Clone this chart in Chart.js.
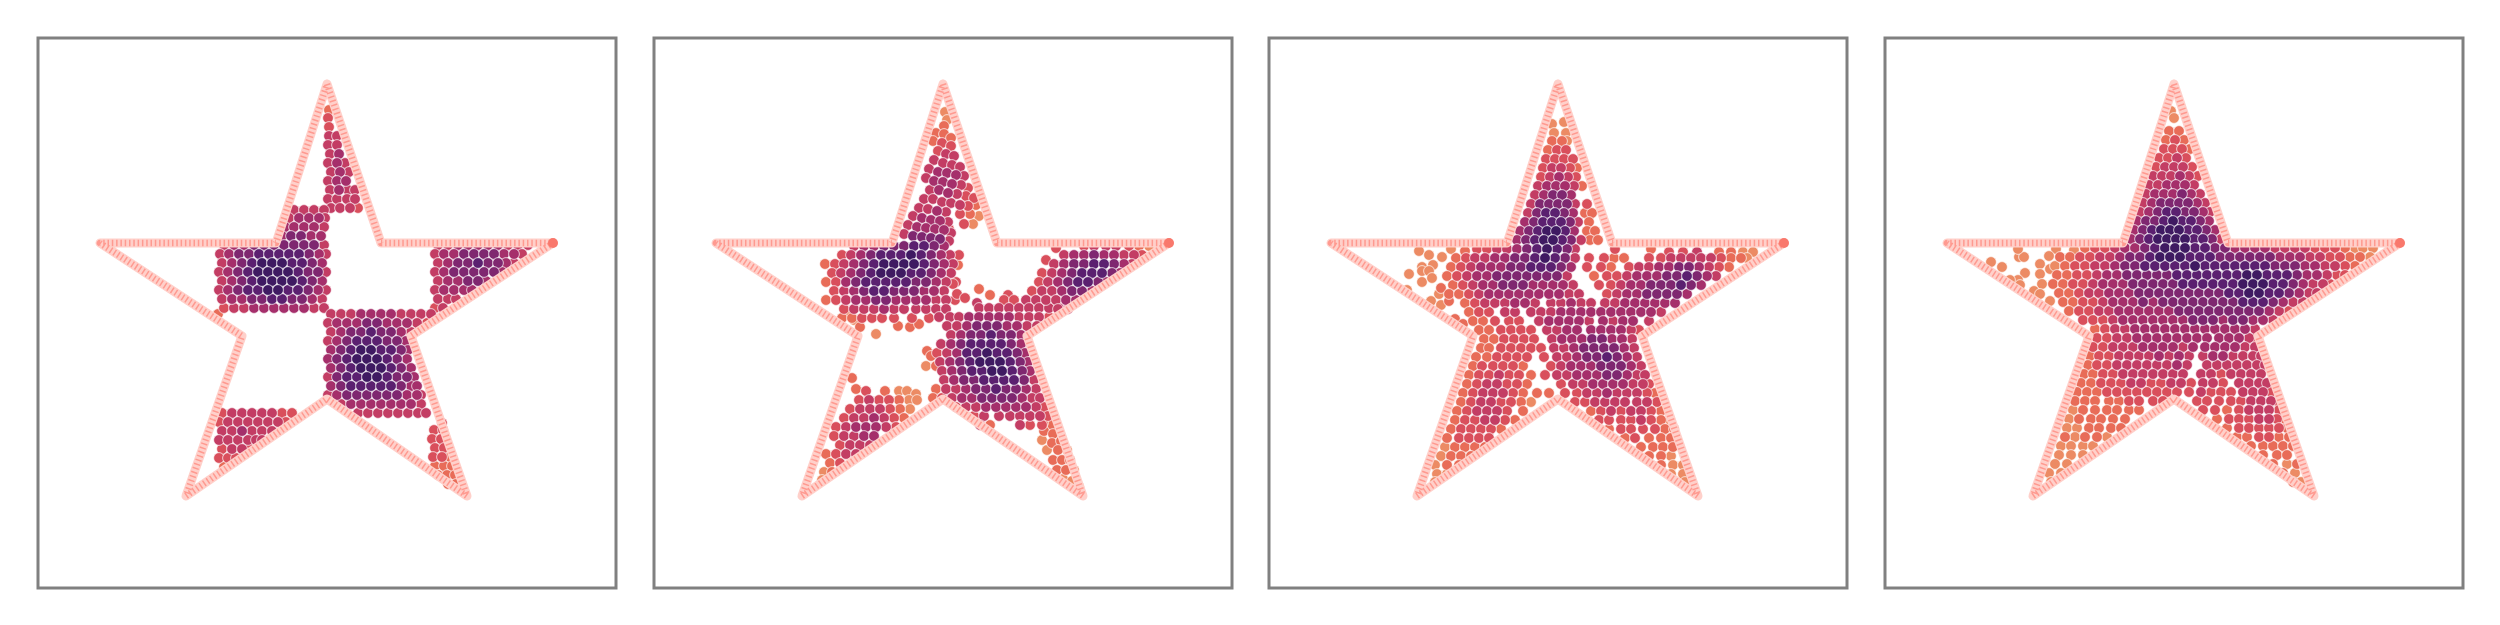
<!DOCTYPE html>
<html>
<head>
<meta charset="utf-8">
<script src="https://cdn.jsdelivr.net/npm/chart.js@4"></script>
<style>
  body { margin: 0; background: #fff; width: 2500px; height: 625px; position: relative; overflow: hidden; }
  canvas { position: absolute; top: 28px; }
</style>
</head>
<body>
<canvas id="c0" width="598" height="570"></canvas>
<canvas id="c1" width="598" height="570"></canvas>
<canvas id="c2" width="598" height="570"></canvas>
<canvas id="c3" width="598" height="570"></canvas>
<script>
// star outline corners
const starX = [289, 343, 515, 373, 429, 289, 148, 204, 62, 238, 289];
const starY = [46, 205, 205, 298, 458, 361, 458, 298, 205, 205, 46];
const tipX = [515];
const tipY = [205];

const panel1Rows = [
  [72, 291,1], [80, 290,2], [89, 291,2], [98, 291,3, 299,3], [107, 290,3, 299,3], [116, 292,3, 301,4],
  [125, 290,3, 299,4, 307,3], [134, 293,3, 302,4, 311,3], [143, 290,3, 299,4, 308,4], [152, 292,3, 301,4, 310,3, 317,3],
  [161, 290,3, 299,3, 309,3, 317,3], [170, 293,3, 302,3, 312,3, 320,2],
  [172, 256,3, 266,3, 276,3, 286,3], [180, 251,3, 261,4, 271,4, 281,4, 287,3], [189, 247,4, 256,4, 266,4, 276,4, 286,3],
  [198, 244,4, 253,5, 263,5, 273,4, 283,4],
  [207, 186,3, 196,4, 206,4, 216,5, 226,5, 236,5, 246,5, 256,5, 266,5, 276,5, 286,3],
  [216, 182,3, 191,4, 201,5, 211,5, 221,6, 231,6, 241,6, 251,6, 261,6, 271,5, 281,4, 288,3],
  [225, 184,3, 194,4, 204,5, 214,6, 224,7, 234,7, 244,7, 254,6, 264,6, 274,5, 284,4],
  [234, 181,3, 190,4, 200,5, 210,6, 220,7, 230,7, 240,7, 250,7, 260,6, 270,5, 280,5, 288,3],
  [243, 184,3, 194,4, 204,5, 214,6, 224,7, 234,7, 244,7, 254,7, 264,6, 274,5, 284,4],
  [252, 181,3, 190,4, 200,5, 210,6, 220,6, 230,7, 240,7, 250,6, 260,6, 270,5, 280,4, 288,3],
  [261, 184,3, 194,4, 204,4, 214,5, 224,5, 234,6, 244,6, 254,5, 264,5, 274,4, 284,3],
  [270, 186,2, 196,3, 206,3, 216,4, 226,4, 236,4, 246,4, 256,4, 266,4, 276,3, 286,3], [276, 180,1],
  [207, 400,3, 410,3, 420,4, 430,4, 440,4, 450,4, 460,4, 470,3, 480,3, 490,3],
  [216, 397,3, 406,4, 416,4, 426,5, 436,5, 446,5, 456,5, 466,4, 476,4, 484,3],
  [225, 400,3, 410,4, 420,5, 430,5, 440,6, 450,5, 460,5, 468,4, 476,3],
  [234, 397,3, 406,4, 416,5, 426,5, 436,5, 446,5, 456,5, 464,4],
  [243, 400,3, 410,4, 420,4, 430,5, 440,5, 448,4], [252, 397,3, 406,4, 416,4, 426,4, 434,4],
  [261, 400,3, 410,3, 418,3], [270, 397,2, 405,3],
  [276, 293,3, 303,3, 313,3, 323,4, 333,4, 343,4, 353,4, 363,3, 373,3, 383,3, 393,3],
  [285, 290,3, 299,4, 309,4, 319,4, 329,5, 339,5, 349,4, 359,4, 369,4, 379,3, 389,2],
  [294, 293,3, 303,4, 313,5, 323,5, 333,6, 343,5, 353,5, 363,4, 373,3],
  [303, 290,3, 299,4, 309,5, 319,6, 329,6, 339,6, 349,5, 359,5, 368,4],
  [312, 293,4, 303,5, 313,6, 323,7, 333,7, 343,6, 353,6, 363,5, 370,4],
  [321, 290,4, 299,5, 309,6, 319,7, 329,7, 339,7, 349,6, 359,5, 369,4],
  [330, 293,4, 303,5, 313,6, 323,7, 333,7, 343,7, 353,6, 363,5, 373,4],
  [339, 290,3, 299,5, 309,6, 319,6, 329,7, 339,7, 349,6, 359,5, 369,5, 376,4],
  [348, 293,4, 303,5, 313,6, 323,6, 333,6, 343,6, 353,6, 363,5, 373,4, 379,4],
  [357, 290,3, 299,4, 309,5, 319,5, 329,5, 339,5, 349,5, 359,5, 369,4, 379,4, 383,3],
  [366, 303,3, 313,4, 323,4, 333,4, 343,4, 353,4, 363,4, 373,4, 383,3],
  [375, 320,3, 330,3, 340,3, 350,3, 360,3, 370,3, 380,3, 388,3],
  [375, 184,2, 194,3, 204,3, 214,3, 224,3, 234,3, 244,2, 254,2],
  [384, 181,2, 190,3, 200,3, 210,3, 220,3, 230,3, 240,3, 248,2],
  [393, 184,3, 194,3, 204,4, 214,3, 224,3, 234,3], [402, 181,3, 190,3, 200,3, 210,3, 218,3, 224,3],
  [411, 184,2, 194,3, 204,3, 212,2], [420, 181,2, 190,2, 198,2], [429, 186,1],
  [385, 404,2], [392, 396,2, 405,2], [401, 394,2, 403,2], [410, 397,2, 406,2], [419, 395,2, 404,2, 412,1],
  [428, 397,1, 406,1, 414,1], [437, 400,1, 409,1, 417,1], [446, 410,1, 418,1],
];

const panel2Rows = [
  [74, 291,0], [82, 293,0], [88, 290,1], [95, 282,1], [96, 290,1], [100, 297,1], [103, 279,1], [105, 288,2], [108, 297,2],
  [113, 284,2], [116, 292,3], [118, 300,3], [122, 280,3], [125, 289,3], [127, 298,3], [129, 306,3],
  [131, 275,3], [134, 284,4], [135, 293,4], [137, 302,4], [138, 310,3], [140, 272,3], [143, 280,4], [144, 289,4],
  [146, 298,4], [147, 307,3], [150, 314,2], [152, 276,3, 285,4], [155, 294,4], [156, 303,3], [158, 312,2], [160, 320,2],
  [161, 270,3, 279,3], [164, 288,3], [165, 297,3], [167, 306,3, 322,1], [168, 314,2], [170, 265,3], [171, 274,3],
  [173, 283,4], [174, 292,3], [176, 306,2, 316,1], [178, 325,0], [186, 319,0, 310,2],
  [178, 259,3], [180, 268,4], [182, 277,4], [183, 286,4], [184, 294,3], [187, 254,3], [189, 263,4], [190, 272,4],
  [191, 281,4, 295,2], [192, 290,4], [195, 297,3], [196, 250,3], [198, 259,5], [199, 268,5], [200, 277,5], [201, 286,5], [203, 295,3],
  [208, 200,3, 210,4, 220,4, 230,5, 240,5, 250,5, 260,6, 270,6, 280,5, 290,4],
  [217, 188,2, 197,3, 207,4, 217,5, 227,6, 237,6, 247,6, 257,7, 267,6, 277,5, 287,4, 296,3, 305,2],
  [226, 171,1, 181,2, 190,3, 200,4, 210,5, 220,6, 230,7, 240,7, 250,7, 260,7, 270,6, 280,5, 290,4, 299,3],
  [235, 178,2, 187,3, 197,4, 207,5, 217,6, 227,7, 237,7, 247,7, 257,6, 267,6, 277,5, 287,4, 297,3],
  [244, 172,1, 182,2, 192,4, 202,5, 212,6, 222,6, 232,6, 242,6, 252,6, 262,5, 272,5, 282,4, 292,3, 302,2],
  [253, 180,2, 190,3, 200,4, 210,5, 220,6, 230,6, 240,5, 250,5, 260,5, 270,4, 280,4, 290,3],
  [262, 172,1, 182,2, 192,3, 202,4, 212,4, 222,5, 232,5, 242,4, 252,4, 262,4, 272,4, 282,3, 292,3, 301,2],
  [271, 190,2, 200,3, 210,3, 220,3, 230,4, 240,3, 250,3, 262,3, 272,3, 282,3, 292,3],
  [280, 188,1, 198,1, 208,2, 218,2, 228,2, 240,2, 258,2, 275,2],
  [275, 192,0], [282, 200,0], [289, 206,1, 256,1], [296, 222,0], [288, 244,1], [286, 265,1], [251, 325,1], [257, 336,1],
  [227, 304,1], [246, 299,2], [256, 303,2], [260, 311,2], [265, 323,3], [257, 354,2], [262, 350,2, 360,2, 372,3, 382,3],
  [270, 325,3, 335,3, 345,3, 355,3, 365,3, 375,3, 385,3, 395,3, 405,3],
  [279, 285,3, 296,3, 305,3, 315,4, 325,4, 335,4, 345,4, 355,4, 365,3, 375,3, 385,3, 395,2],
  [288, 293,3, 303,3, 313,4, 323,5, 333,5, 343,5, 353,4, 363,4, 373,3, 383,3],
  [297, 297,3, 307,4, 317,5, 327,5, 337,6, 347,5, 357,5, 367,4],
  [306, 287,3, 297,4, 307,5, 317,6, 327,6, 337,6, 347,6, 357,5, 367,4],
  [315, 283,2, 293,3, 303,4, 313,6, 323,6, 333,7, 343,6, 353,6, 363,5, 371,4],
  [324, 286,3, 296,4, 306,5, 316,6, 326,7, 336,7, 346,7, 356,6, 366,5, 374,4],
  [313, 273,1], [318, 277,1], [328, 272,0, 282,1],
  [333, 288,3, 298,4, 308,5, 318,6, 328,6, 338,7, 348,7, 358,6, 368,5, 376,4],
  [342, 290,3, 300,4, 310,5, 320,5, 330,6, 340,6, 350,6, 360,6, 370,5, 380,3],
  [351, 282,1, 292,3, 302,3, 312,4, 322,5, 332,5, 342,6, 352,5, 362,5, 372,4, 382,3],
  [360, 279,1, 288,2, 298,3, 308,4, 318,4, 328,5, 338,5, 348,5, 358,5, 368,4, 378,3, 386,3],
  [369, 302,2, 312,3, 322,3, 332,4, 342,4, 352,4, 362,4, 372,4, 382,3, 390,2],
  [378, 320,2, 330,3, 345,3, 356,3, 366,3, 376,3, 386,3, 394,2], [387, 326,3, 336,1, 366,3, 376,2, 388,2, 398,1],
  [385, 389,1], [393, 390,1], [396, 399,1], [402, 388,0], [405, 398,1], [403, 407,1], [412, 393,0, 404,1, 413,0],
  [422, 399,1, 408,1, 416,1], [432, 403,1, 412,1, 420,0], [441, 409,0], [443, 418,0], [449, 425,0],
  [210, 402,2], [208, 430,2, 440,3, 452,3, 462,3, 475,2, 485,1, 495,0],
  [217, 410,3, 420,4, 430,4, 440,5, 450,4, 460,4, 470,3, 480,3, 488,2], [222, 392,2],
  [226, 400,3, 410,4, 420,5, 430,5, 440,6, 450,6, 460,5, 470,4, 478,3],
  [235, 388,2, 398,3, 408,4, 418,5, 428,6, 438,6, 448,6, 458,5, 466,4],
  [244, 385,2, 394,3, 404,4, 414,5, 424,6, 434,6, 444,5, 452,4],
  [253, 378,2, 388,3, 398,3, 408,4, 418,5, 428,5, 438,4], [262, 392,3, 402,3, 412,4, 422,4], [271, 404,3, 414,3],
  [340, 198,1], [351, 202,1], [353, 212,2, 231,1, 245,0, 253,0], [356, 262,0],
  [362, 205,2, 215,3, 225,2, 235,2, 245,1, 255,0, 263,0],
  [371, 196,2, 206,3, 216,3, 226,3, 236,2, 246,1, 256,0],
  [380, 190,2, 200,3, 210,3, 220,4, 230,3, 240,2, 250,1],
  [389, 182,2, 192,3, 202,4, 212,4, 222,4, 232,3, 242,2],
  [398, 180,2, 190,3, 200,3, 210,4, 220,4],
  [407, 186,2, 196,3, 206,3, 216,3], [416, 172,1, 182,2, 192,3, 202,3], [425, 176,1, 186,2],
  [434, 170,0, 178,1], [442, 168,0],
];

const panel3Rows = [
  [84, 295,0], [86, 283,0], [95, 285,0, 297,0], [103, 283,1, 293,1, 298,0], [112, 279,1, 288,2, 297,2],
  [121, 277,2, 286,2, 295,2, 304,2], [130, 274,2, 283,3, 292,3, 301,2, 308,1], [139, 272,2, 281,3, 290,4, 299,3, 307,2],
  [148, 269,3, 278,4, 287,4, 296,4, 305,3, 313,1], [157, 266,3, 275,4, 284,5, 293,5, 302,4],
  [166, 262,3, 271,5, 280,5, 289,5, 298,5, 306,3, 318,2], [175, 259,3, 268,5, 277,6, 286,6, 295,5, 304,4, 316,1, 323,1],
  [184, 256,4, 265,5, 274,6, 283,6, 292,6, 301,5, 309,3, 320,1], [193, 251,4, 260,5, 269,6, 278,7, 287,7, 296,6, 305,4, 318,1, 326,1],
  [202, 248,4, 257,5, 266,6, 275,7, 284,7, 293,6, 302,5, 312,3, 321,1, 329,1],
  [213, 150,0, 196,1], [217, 160,0], [219, 173,0], [227, 164,0], [229, 153,0], [236, 140,0], [233, 153,0, 160,0],
  [244, 153,0], [240, 163,0], [211, 182,0], [250, 172,1], [256, 170,0], [263, 162,0, 180,1], [252, 138,0], [267, 172,0],
  [281, 186,1], [286, 194,1],
  [211, 208,2, 218,2, 228,3, 238,3, 248,4, 258,5, 268,6, 278,7, 288,6, 298,5, 306,3, 346,2, 382,1],
  [214, 400,2, 414,2, 428,3, 450,1, 462,1, 474,0, 484,0],
  [220, 187,1, 197,2, 206,3, 216,3, 226,4, 236,4, 246,5, 256,5, 266,6, 276,7, 286,6, 296,5, 306,3, 320,2, 335,2, 345,1, 355,1, 380,2, 392,2, 402,3, 412,3, 422,3, 432,3, 442,3, 452,2, 462,1, 472,1, 478,0],
  [229, 182,1, 192,2, 202,3, 212,4, 222,4, 232,4, 242,5, 252,5, 262,6, 272,6, 282,6, 292,5, 302,4, 318,2, 332,2, 342,1, 360,2, 370,3, 380,3, 390,4, 400,4, 410,5, 420,5, 430,4, 440,3, 450,2, 460,1],
  [238, 178,1, 188,2, 198,3, 208,4, 218,4, 228,5, 238,5, 248,5, 258,5, 268,5, 278,5, 288,5, 298,3, 325,1, 338,2, 348,2, 358,3, 368,4, 378,4, 388,4, 398,5, 408,5, 418,6, 428,5, 438,4, 447,3],
  [247, 184,1, 194,2, 204,3, 214,4, 224,4, 234,5, 244,5, 254,5, 264,4, 274,4, 284,4, 294,4, 304,3, 330,2, 342,2, 352,3, 362,4, 372,4, 382,5, 392,5, 402,5, 412,6, 422,5, 432,4],
  [256, 180,1, 190,1, 200,2, 210,3, 220,4, 230,4, 240,4, 250,4, 260,4, 270,4, 280,4, 290,4, 300,3, 310,3, 338,2, 348,3, 358,4, 368,4, 378,5, 388,5, 398,5, 408,5, 418,4],
  [265, 196,1, 206,2, 216,3, 226,3, 236,3, 246,4, 256,4, 266,3, 282,3, 292,3, 302,4, 312,3, 322,3, 336,3, 346,3, 356,4, 366,4, 376,4, 386,4, 396,4, 406,4],
  [274, 200,1, 210,2, 220,2, 236,3, 246,3, 262,3, 272,3, 282,3, 292,4, 302,4, 312,4, 322,4, 332,4, 342,4, 352,4, 362,4, 372,4, 382,4, 392,3],
  [283, 204,1, 214,1, 226,2, 240,2, 250,2, 270,3, 280,4, 290,4, 300,4, 310,4, 320,3, 334,4, 344,3, 354,4, 364,4, 380,3],
  [292, 210,1, 220,1, 232,2, 242,2, 252,2, 262,2, 278,3, 288,3, 298,4, 308,4, 322,4, 332,4, 342,4, 352,4, 362,3, 370,2],
  [301, 215,1, 225,1, 235,2, 245,2, 255,2, 265,2, 283,3, 293,4, 303,4, 313,4, 323,5, 333,5, 343,4, 353,4, 363,3],
  [310, 212,1, 220,1, 232,2, 242,2, 252,2, 262,2, 272,2, 285,3, 295,3, 305,4, 315,5, 325,5, 335,5, 345,5, 355,4, 365,3],
  [319, 207,1, 218,1, 228,2, 238,2, 248,2, 258,2, 275,2, 288,3, 298,3, 308,4, 318,5, 328,5, 338,6, 348,5, 358,4, 368,3],
  [328, 204,1, 213,2, 224,2, 234,2, 244,2, 254,1, 282,2, 292,3, 302,4, 312,4, 322,4, 332,5, 342,5, 352,5, 362,4, 372,3],
  [337, 200,1, 210,2, 220,2, 230,3, 240,2, 250,2, 262,1, 276,2, 288,3, 298,3, 308,4, 318,4, 328,4, 338,5, 348,5, 358,4, 368,3, 376,3],
  [346, 198,1, 208,2, 218,3, 228,3, 238,2, 248,2, 258,1, 292,2, 304,3, 314,3, 324,4, 334,4, 344,4, 354,4, 364,3, 374,3, 380,2],
  [355, 194,1, 204,2, 214,3, 224,3, 234,3, 244,2, 254,1, 268,1, 280,1, 296,2, 308,2, 318,3, 328,3, 338,4, 348,3, 358,3, 368,3, 378,2, 386,1],
  [364, 192,1, 202,2, 212,3, 222,3, 232,2, 242,2, 252,1, 262,0, 306,2, 316,2, 326,3, 336,3, 346,3, 356,3, 368,3, 378,3, 388,2],
  [373, 188,1, 198,2, 208,3, 218,3, 228,3, 238,2, 254,1, 322,1, 332,2, 342,3, 352,2, 362,3, 372,3, 382,2, 392,1],
  [382, 186,1, 196,2, 206,2, 216,3, 226,3, 236,2, 246,1, 330,2, 340,2, 352,2, 362,2, 372,3, 382,2, 392,1, 401,0],
  [391, 182,1, 192,2, 202,2, 212,2, 222,2, 232,1, 340,1, 352,2, 362,2, 374,2, 386,2, 396,1, 405,1],
  [400, 178,1, 190,2, 200,2, 210,2, 220,2, 356,1, 366,2, 380,1, 392,1, 402,1],
  [409, 176,0, 186,1, 196,1, 206,1, 216,1, 372,1, 384,1, 394,1, 404,1], [418, 172,0, 182,1, 192,1, 202,1, 380,1, 392,1, 402,0],
  [427, 166,0, 178,1, 190,1, 392,1, 404,0, 414,0], [436, 168,0, 178,0, 402,0, 414,0], [444, 166,0, 416,0],
];

const panel4Rows = [
  [73, 286,0], [80, 289,0], [93, 284,1, 294,1], [102, 281,1, 290,2, 299,1], [111, 279,2, 288,2, 297,2, 305,1],
  [120, 274,2, 283,2, 292,3, 301,2], [129, 271,2, 280,3, 289,3, 298,3, 307,2], [138, 268,3, 277,3, 286,3, 295,4, 304,3, 313,2],
  [147, 264,3, 273,3, 282,4, 291,4, 300,4, 309,3], [156, 261,3, 270,4, 279,4, 288,4, 297,5, 306,4, 315,3],
  [165, 258,3, 267,4, 276,5, 285,5, 294,5, 303,5, 312,4, 320,3], [174, 255,3, 264,4, 273,5, 282,6, 291,6, 300,5, 309,5, 318,4, 325,3],
  [183, 252,4, 261,5, 270,5, 279,6, 288,7, 297,6, 306,6, 315,5, 324,4], [192, 249,4, 258,5, 267,6, 276,7, 285,7, 294,7, 303,6, 312,6, 321,5, 330,4],
  [201, 246,4, 255,5, 264,6, 273,7, 282,7, 291,7, 300,7, 309,6, 318,6, 327,5, 336,3],
  [224, 106,0], [229, 117,0], [219, 134,0, 139,0], [211, 133,0, 171,0], [226, 155,0], [218, 164,0], [212, 189,0],
  [235, 140,0], [242, 133,0, 125,0], [247, 135,0], [236, 155,0], [231, 165,0], [246, 157,0], [253, 149,0], [256, 155,0], [263, 165,0],
  [210, 200,1, 210,2, 220,2, 230,3, 240,4, 250,4, 260,5, 270,6, 280,7, 290,7, 300,7, 310,6, 320,6, 330,5, 340,5, 350,4, 360,4, 370,4, 380,4, 390,3, 400,3, 410,3, 420,3, 430,2, 440,2, 450,2, 460,1, 470,0, 478,0, 488,0],
  [219, 175,1, 185,1, 195,2, 205,2, 215,3, 225,3, 235,4, 245,5, 255,5, 265,6, 275,7, 285,7, 295,7, 305,6, 315,6, 325,6, 335,5, 345,5, 355,5, 365,5, 375,5, 385,5, 395,4, 405,4, 415,4, 425,3, 435,3, 445,2, 455,2, 465,1, 475,1, 485,0],
  [228, 170,0, 180,1, 190,2, 200,2, 210,3, 220,3, 230,4, 240,5, 250,5, 260,6, 270,6, 280,6, 290,6, 300,6, 310,7, 320,6, 330,6, 340,6, 350,6, 360,6, 370,6, 380,6, 390,5, 400,5, 410,5, 420,4, 430,4, 440,3, 450,3, 460,2, 470,1],
  [237, 172,1, 182,1, 192,2, 202,2, 212,3, 222,4, 232,4, 242,5, 252,5, 262,5, 272,5, 282,5, 292,6, 302,6, 312,6, 322,6, 332,6, 342,6, 352,6, 362,7, 372,7, 382,6, 392,6, 402,6, 412,5, 422,4, 432,4, 442,3, 452,2, 460,2],
  [246, 168,1, 178,1, 188,2, 198,2, 208,3, 218,4, 228,4, 238,4, 248,5, 258,5, 268,5, 278,5, 288,5, 298,6, 308,6, 318,6, 328,6, 338,6, 348,6, 358,7, 368,7, 378,7, 388,6, 398,6, 408,5, 418,4, 428,3, 438,3, 445,2],
  [255, 174,1, 184,1, 194,2, 204,3, 214,3, 224,4, 234,4, 244,4, 254,5, 264,5, 274,5, 284,5, 294,5, 304,5, 314,5, 324,5, 334,5, 344,6, 354,6, 364,7, 374,7, 384,6, 394,6, 404,5, 414,4, 424,3, 432,3],
  [264, 178,1, 188,1, 198,2, 208,2, 218,3, 228,4, 238,4, 248,4, 258,5, 268,4, 278,5, 288,5, 298,5, 308,5, 318,5, 328,5, 338,5, 348,5, 358,6, 368,6, 378,6, 388,5, 398,4, 408,3, 418,3],
  [273, 184,1, 194,2, 204,2, 214,3, 224,3, 234,4, 244,4, 254,4, 264,4, 274,4, 284,4, 294,5, 304,5, 314,5, 324,5, 334,5, 344,5, 354,5, 364,5, 374,5, 384,4, 394,3, 404,2],
  [282, 198,2, 208,2, 218,2, 228,3, 238,4, 248,4, 258,4, 268,4, 278,4, 288,4, 298,4, 308,5, 318,5, 328,5, 338,4, 348,5, 358,5, 368,4, 378,4, 388,3],
  [291, 210,1, 220,2, 230,3, 240,3, 250,4, 260,4, 270,4, 280,4, 290,4, 300,4, 310,4, 320,4, 330,4, 340,4, 350,4, 360,4, 370,3],
  [300, 212,2, 222,2, 232,3, 242,3, 252,4, 262,4, 272,4, 282,4, 292,4, 302,4, 312,4, 322,4, 334,4, 344,4, 354,4, 364,3, 370,2],
  [309, 208,2, 218,2, 228,3, 238,3, 248,3, 258,4, 268,4, 278,4, 288,4, 298,3, 308,4, 320,4, 330,4, 340,4, 350,4, 360,3, 370,3],
  [318, 205,1, 214,2, 224,2, 234,3, 244,3, 254,3, 264,3, 274,4, 284,3, 294,4, 304,3, 318,3, 328,4, 338,4, 348,3, 358,3, 368,3, 376,3],
  [327, 203,1, 212,2, 222,2, 232,3, 242,3, 252,3, 262,3, 272,3, 282,3, 292,4, 302,3, 322,3, 332,3, 342,3, 352,3, 362,3, 372,3, 380,3],
  [336, 199,1, 208,1, 218,2, 228,2, 238,3, 248,3, 258,3, 268,3, 278,3, 288,3, 298,3, 316,3, 326,3, 336,2, 346,3, 356,3, 366,3, 376,3],
  [345, 196,1, 206,1, 216,2, 226,2, 236,2, 246,3, 256,3, 266,2, 276,2, 286,3, 296,3, 306,2, 318,3, 328,3, 338,2, 354,3, 364,3, 374,3, 382,3],
  [354, 192,1, 202,1, 212,1, 222,2, 232,2, 242,2, 252,2, 262,2, 272,2, 282,2, 292,2, 304,2, 316,3, 326,2, 336,2, 346,2, 358,3, 368,3, 378,3, 386,2],
  [363, 190,1, 200,1, 210,1, 224,1, 234,1, 244,2, 254,2, 268,2, 278,2, 312,2, 322,2, 334,2, 346,2, 356,2, 366,3, 376,3, 386,3, 392,2],
  [372, 188,0, 198,1, 210,1, 222,1, 232,1, 244,1, 254,1, 318,2, 330,2, 342,1, 354,2, 364,3, 374,3, 384,3, 394,2],
  [381, 184,0, 194,1, 206,1, 216,1, 228,1, 240,1, 332,1, 344,2, 354,2, 364,2, 374,3, 384,3, 392,2, 400,1],
  [390, 182,0, 192,0, 204,1, 214,1, 226,1, 236,1, 342,1, 354,2, 364,2, 374,2, 384,2, 394,2, 402,1],
  [399, 180,1, 190,0, 200,1, 212,1, 222,0, 352,1, 362,1, 374,2, 384,2, 394,1, 404,1],
  [408, 176,0, 186,0, 198,0, 208,0, 366,1, 378,1, 388,1, 398,1, 408,1], [417, 174,0, 186,0, 198,0, 378,1, 392,1, 402,1],
  [426, 170,0, 182,0, 388,1, 402,0, 412,1], [435, 164,0, 176,0, 398,1, 410,0], [444, 166,0, 408,1, 416,0],
];

const allRows = [panel1Rows, panel2Rows, panel3Rows, panel4Rows];
const panelLeft = [38, 653.5, 1269, 1884.5];
const bandColors = ["#ec8b64", "#e86c58", "#d94f5c", "#c33d64", "#a52f6b", "#7f2770", "#5b2070", "#3f1a62"];

// box around the plot area
const frame = {
  id: "frame",
  afterDraw(chart) {
    const a = chart.chartArea, ctx = chart.ctx;
    ctx.strokeStyle = "#808080";
    ctx.lineWidth = 3;
    ctx.strokeRect(a.left, a.top, a.width, a.height);
  },
};

panelLeft.forEach((left, i) => {
  const el = document.getElementById("c" + i);
  el.style.left = left - 10 + "px";

  const bands = bandColors.map(() => []);
  allRows[i].forEach((row) => {
    for (let k = 1; k < row.length; k += 2) bands[row[k + 1]].push({ x: row[k], y: row[0] });
  });
  const datasets = bands.map((pts, d) => ({
    data: pts,
    backgroundColor: bandColors[d],
    borderColor: "rgba(255,255,255,0.7)",
    borderWidth: 1,
    pointRadius: 5.4,
    order: 20 - d,
  }));

  const outline = starX.map((x, k) => ({ x, y: starY[k] }));
  datasets.push(
    { data: outline, showLine: true, pointRadius: 0, borderColor: "#ffd0ca", borderWidth: 9, borderJoinStyle: "round", borderCapStyle: "round", order: 3 },
    { data: outline, showLine: true, pointRadius: 0, borderColor: "#ff9a90", borderWidth: 6.5, borderJoinStyle: "round", borderDash: [1.5, 2.8], order: 2 },
    { data: tipX.map((x, k) => ({ x, y: tipY[k] })), pointRadius: 5, backgroundColor: "#f9786c", borderWidth: 0, order: 1 }
  );

  new Chart(el, {
    type: "scatter",
    data: { datasets },
    options: {
      responsive: false,
      animation: false,
      layout: { padding: 10 },
      plugins: { legend: { display: false }, tooltip: { enabled: false } },
      scales: {
        x: { display: false, min: 0, max: 578 },
        y: { display: false, min: 0, max: 550, reverse: true },
      },
    },
    plugins: [frame],
  });
});
</script>
</body>
</html>
